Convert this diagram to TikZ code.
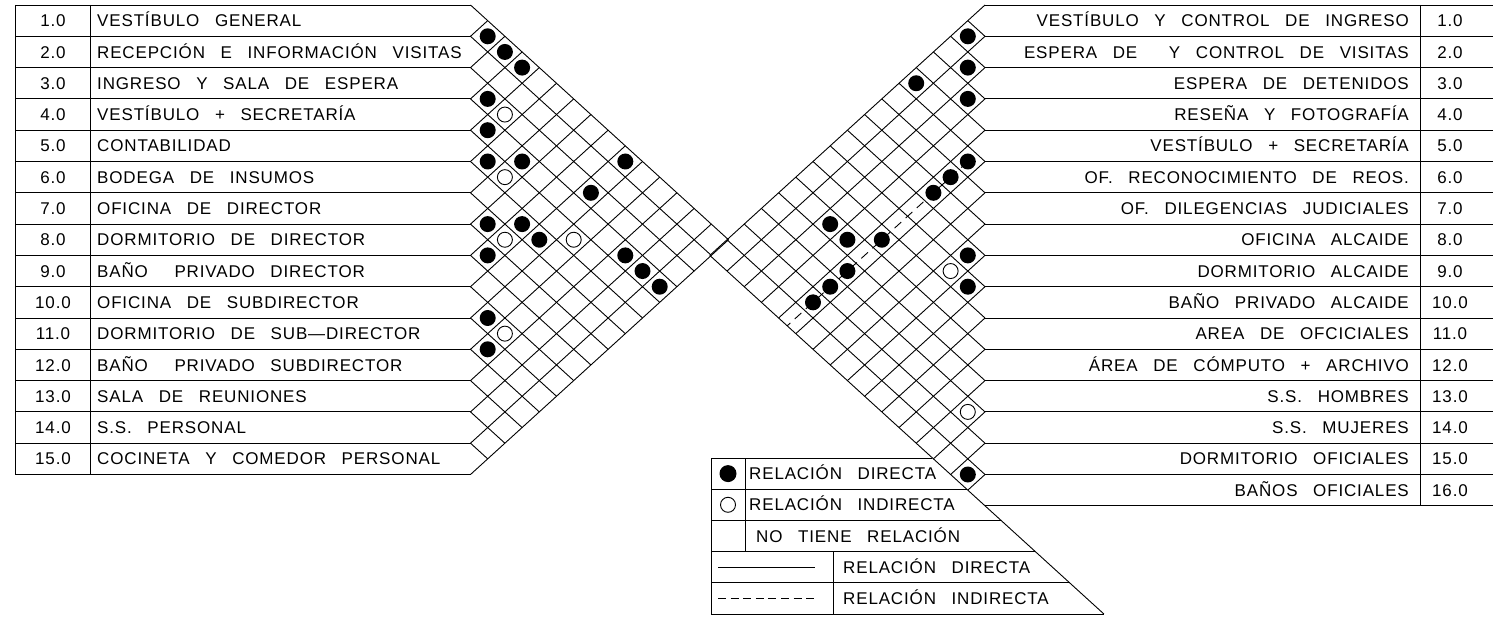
\documentclass[tikz,border=0pt]{standalone}
\usepackage{fontspec}
\setmainfont{Liberation Sans}[LetterSpace=5,WordSpace=2.8]
\begin{document}
\begin{tikzpicture}[x=1pt,y=-1pt]
\tikzset{
 gl/.style={line width=0.9pt, draw=black},
 lbl/.style={inner sep=0pt, font=\fontsize{17}{20}\selectfont},
 dotf/.style={fill=black},
 doto/.style={draw=black, line width=0.9pt, fill=white},
 dashln/.style={line width=0.9pt, dash pattern=on 9pt off 6pt},
}
\useasboundingbox (0,0) rectangle (1493,617);
% ---------------- left table ----------------
\draw[gl] (15,5) -- (15,474.5);
\draw[gl] (90,5) -- (90,474.5);
\foreach \k in {0,...,15} \draw[gl] (15,{5+31.3*\k}) -- (470.5,{5+31.3*\k});
\foreach \i/\t in {1/{VESTÍBULO GENERAL},2/{RECEPCIÓN E INFORMACIÓN VISITAS},3/{INGRESO Y SALA DE ESPERA},4/{VESTÍBULO + SECRETARÍA},5/{CONTABILIDAD},6/{BODEGA DE INSUMOS},7/{OFICINA DE DIRECTOR},8/{DORMITORIO DE DIRECTOR},9/{BAÑO\hspace*{11pt} PRIVADO DIRECTOR},10/{OFICINA DE SUBDIRECTOR},11/{DORMITORIO DE SUB—DIRECTOR},12/{BAÑO\hspace*{11pt} PRIVADO SUBDIRECTOR},13/{SALA DE REUNIONES},14/{S.S. PERSONAL},15/{COCINETA Y COMEDOR PERSONAL}}{
  \node[lbl, anchor=base] (Ln\i) at (53,{5+31.3*(\i-0.5)+6.1}) {\i.0};
  \node[lbl, anchor=base west] (L\i) at (97,{5+31.3*(\i-0.5)+6.1}) {\t};
}
% ---------------- left matrix ----------------
\begin{scope}[xshift=470.5pt, yshift=-5pt, x=17.2pt, y=-15.65pt]
 \foreach \k in {0,...,15} {
   \draw[gl] (0,2*\k) -- ({15-\k},{15+\k});
   \draw[gl] (0,2*\k) -- (\k,\k);
 }
 \foreach \i/\j in {1/2,1/3,1/4,3/4,4/5,5/6,4/7,1/10,3/10,7/8,6/9,6/10,8/9,4/13,4/14,4/15,10/11,11/12}
   \fill[dotf] ({\j-\i},{\i+\j-1}) circle[radius=8pt];
 \foreach \i/\j in {3/5,5/7,7/9,5/11,10/12}
   \draw[doto] ({\j-\i},{\i+\j-1}) circle[radius=7.5pt];
\end{scope}
% ---------------- right table ----------------
\foreach \k in {0,...,16} \draw[gl] (985,{5+31.3*\k}) -- (1493,{5+31.3*\k});
\draw[gl] (1420,5) -- (1420,505.8);
\foreach \i/\t in {1/{VESTÍBULO Y CONTROL DE INGRESO},2/{ESPERA DE\hspace*{16pt} Y CONTROL DE VISITAS},3/{ESPERA DE DETENIDOS},4/{RESEÑA Y FOTOGRAFÍA},5/{VESTÍBULO + SECRETARÍA},6/{OF. RECONOCIMIENTO DE REOS.},7/{OF. DILEGENCIAS JUDICIALES},8/{OFICINA ALCAIDE},9/{DORMITORIO ALCAIDE},10/{BAÑO PRIVADO ALCAIDE},11/{AREA DE OFCICIALES},12/{ÁREA DE CÓMPUTO + ARCHIVO},13/{S.S. HOMBRES},14/{S.S. MUJERES},15/{DORMITORIO OFICIALES},16/{BAÑOS OFICIALES}}{
  \node[lbl, anchor=base east] (R\i) at (1409,{5+31.3*(\i-0.5)+6.1}) {\t};
  \node[lbl, anchor=base] (Rn\i) at (1450,{5+31.3*(\i-0.5)+6.1}) {\i.0};
}
% ---------------- right matrix ----------------
\begin{scope}[xshift=985pt, yshift=-5pt, x=-17.2pt, y=-15.65pt]
 \foreach \k in {0,...,16} {
   \draw[gl] (0,2*\k) -- ({16-\k},{16+\k});
   \draw[gl] (0,2*\k) -- (\k,\k);
 }
 \draw[dashln] (1,10) -- (11.5,20.5);
 \foreach \i/\j in {1/2,2/3,1/5,3/4,5/6,5/7,5/8,3/12,4/12,5/11,8/9,5/13,9/10,5/14,5/15,15/16}
   \fill[dotf] ({\j-\i},{\i+\j-1}) circle[radius=8pt];
 \foreach \i/\j in {8/10,13/14}
   \draw[doto] ({\j-\i},{\i+\j-1}) circle[radius=7.5pt];
\end{scope}
% ---------------- legend ----------------
\draw[gl] (985,505.8) -- (1103.9,614);
\foreach \m in {0,...,5}
  \draw[gl] (711,{458+31.2*\m}) -- ({709.8+(458+31.2*\m-255.4)*1.099},{458+31.2*\m});
\draw[gl] (711,458) -- (711,614);
\draw[gl] (745,458) -- (745,551.6);
\draw[gl] (833,551.6) -- (833,614);
\fill[dotf] (728,473.6) circle[radius=8.5pt];
\draw[doto] (728,504.8) circle[radius=7.5pt];
\draw[gl] (718,567.2) -- (815,567.2);
\draw[line width=0.9pt, dash pattern=on 8pt off 4.6pt] (718,598.4) -- (815,598.4);
\node[lbl, anchor=base west] (G1) at (749,479.7) {RELACIÓN DIRECTA};
\node[lbl, anchor=base west] (G2) at (749,510.9) {RELACIÓN INDIRECTA};
\node[lbl, anchor=base west] (G3) at (756,542.1) {NO TIENE RELACIÓN};
\node[lbl, anchor=base west] (G4) at (843,573.3) {RELACIÓN DIRECTA};
\node[lbl, anchor=base west] (G5) at (843,604.5) {RELACIÓN INDIRECTA};
\end{tikzpicture}
\end{document}
